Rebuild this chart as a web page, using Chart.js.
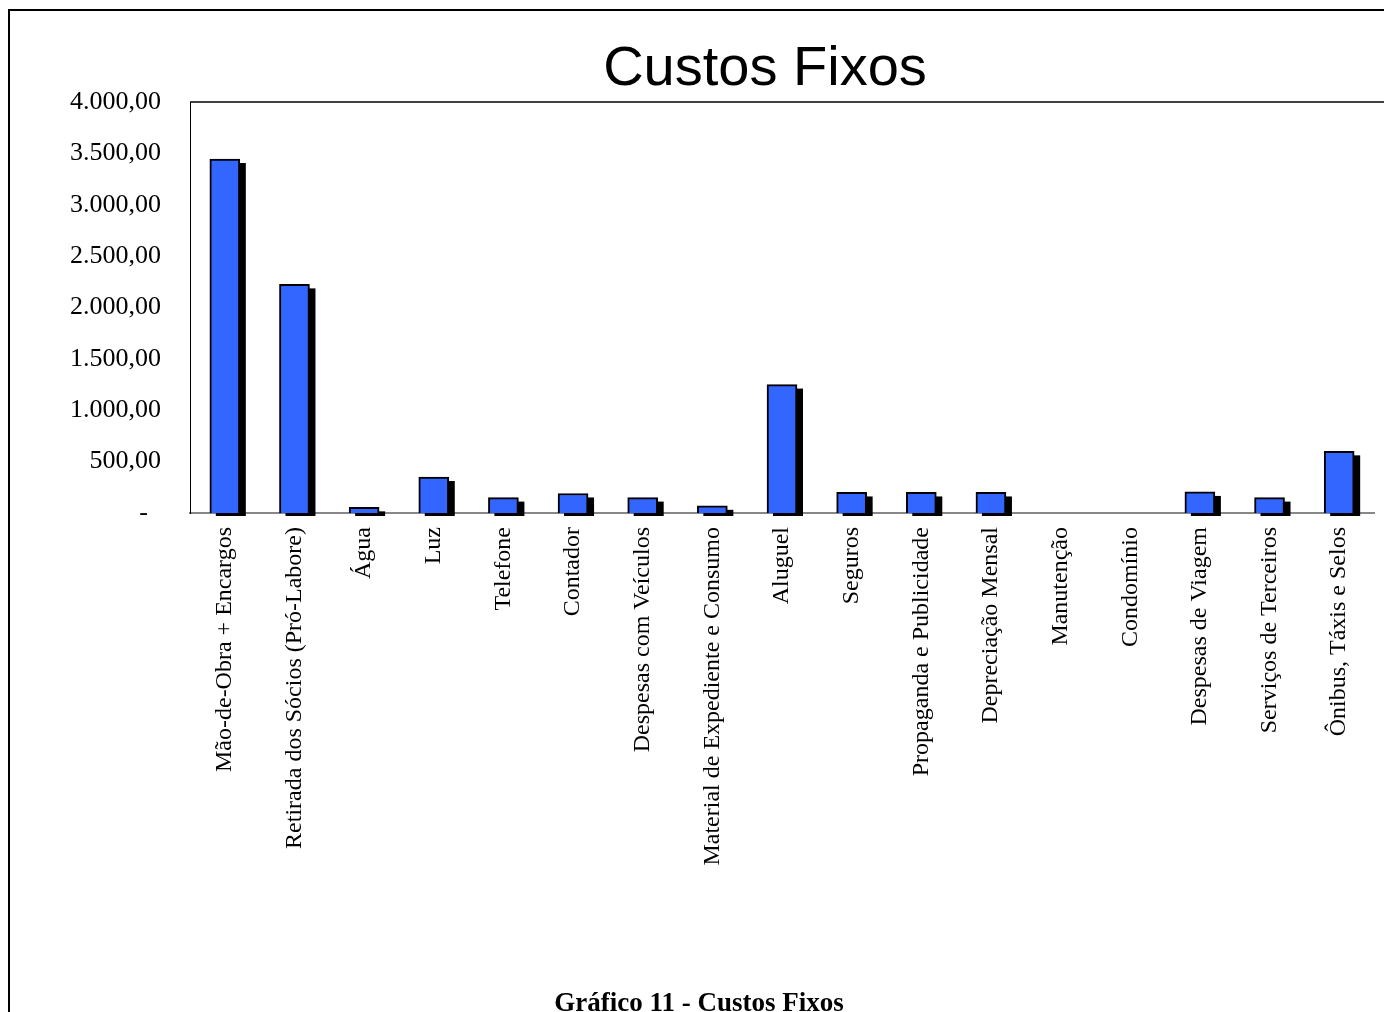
<!DOCTYPE html>
<html>
<head>
<meta charset="utf-8">
<title>Custos Fixos</title>
<script src="https://cdn.jsdelivr.net/npm/chart.js@4.4.1/dist/chart.umd.min.js"></script>
<style>
  html, body { margin: 0; padding: 0; background: #fff; overflow: hidden; }
  #wrap { width: 1384px; height: 1012px; }
</style>
</head>
<body>
<div id="wrap"><canvas id="chart" width="1384" height="1012"></canvas></div>
<script>
// Chart text
const chartTitle = "Custos Fixos";
const caption = "Gráfico 11 - Custos Fixos";

// Categories (x axis) and monthly values
const categories = [
  "Mão-de-Obra + Encargos",
  "Retirada dos Sócios (Pró-Labore)",
  "Água",
  "Luz",
  "Telefone",
  "Contador",
  "Despesas com Veículos",
  "Material de Expediente e Consumo",
  "Aluguel",
  "Seguros",
  "Propaganda e Publicidade",
  "Depreciação Mensal",
  "Manutenção",
  "Condomínio",
  "Despesas de Viagem",
  "Serviços de Terceiros",
  "Ônibus, Táxis e Selos"
];
const values = [3445, 2225, 55, 350, 150, 190, 150, 70, 1250, 200, 200, 200, 0, 0, 205, 150, 600];

// y axis range
const yMin = 0;
const yMax = 4000;
const yStep = 500;

// format like "3.500,00", zero shown as a dash
function fmt(v) {
  if (v === 0) return "-  ";
  const whole = Math.floor(v).toString().replace(/\B(?=(\d{3})+(?!\d))/g, ".");
  return whole + ",00";
}

// black drop shadow behind each bar (drawn before the bars)
const barShadow = {
  id: "barShadow",
  beforeDatasetsDraw(chart) {
    const ctx = chart.ctx;
    const meta = chart.getDatasetMeta(0);
    ctx.save();
    ctx.fillStyle = "#000";
    meta.data.forEach((bar, i) => {
      if (!values[i]) return;
      const p = bar.getProps(["x", "y", "base", "width"], true);
      ctx.fillRect(p.x - p.width / 2 + 6, p.y + 4, p.width, p.base - p.y - 1);
    });
    ctx.restore();
  }
};

// frame, plot top border, title and caption
const decorations = {
  id: "decorations",
  afterDraw(chart) {
    const ctx = chart.ctx;
    const area = chart.chartArea;
    ctx.save();

    // outer frame (top and left only, the rest is cut off)
    ctx.strokeStyle = "#000";
    ctx.lineWidth = 2;
    ctx.beginPath();
    ctx.moveTo(9, chart.height);
    ctx.lineTo(9, 10);
    ctx.lineTo(chart.width, 10);
    ctx.stroke();

    // top edge of the plot area runs off the right side
    ctx.lineWidth = 1.5;
    ctx.beginPath();
    ctx.moveTo(area.left, area.top);
    ctx.lineTo(chart.width, area.top);
    ctx.stroke();

    ctx.fillStyle = "#000";
    ctx.textAlign = "center";
    ctx.textBaseline = "alphabetic";
    ctx.font = '56px "Liberation Sans", Arial, sans-serif';
    ctx.fillText(chartTitle, 765, 85);

    ctx.font = 'bold 27px "Liberation Serif", "Times New Roman", serif';
    ctx.fillText(caption, 699, 1011);
    ctx.restore();
  }
};

const ctx = document.getElementById("chart").getContext("2d");
new Chart(ctx, {
  type: "bar",
  data: {
    labels: categories,
    datasets: [{
      data: values,
      backgroundColor: "#3366ff",
      borderColor: "#000",
      borderWidth: 2,
      barThickness: 30,
      clip: false
    }]
  },
  options: {
    responsive: false,
    animation: false,
    devicePixelRatio: 1,
    layout: { padding: { top: 102, right: 10, bottom: 0, left: 0 } },
    plugins: {
      legend: { display: false },
      title: { display: false },
      tooltip: { enabled: false }
    },
    scales: {
      x: {
        z: 1,
        grid: { display: false, drawTicks: false },
        border: { display: true, color: "#888", width: 2 },
        ticks: {
          autoSkip: false,
          minRotation: 90,
          maxRotation: 90,
          padding: 14,
          color: "#000",
          font: { family: '"Liberation Serif", "Times New Roman", serif', size: 24 }
        },
        afterFit(scale) { scale.height = 1012 - 513; }
      },
      y: {
        min: yMin,
        max: yMax,
        grid: { display: false, drawTicks: false },
        border: { display: true, color: "#000", width: 1 },
        ticks: {
          stepSize: yStep,
          padding: 29,
          color: "#000",
          font: { family: '"Liberation Serif", "Times New Roman", serif', size: 26 },
          callback: v => fmt(v)
        },
        afterFit(scale) { scale.width = 190; }
      }
    }
  },
  plugins: [barShadow, decorations]
});
</script>
</body>
</html>
